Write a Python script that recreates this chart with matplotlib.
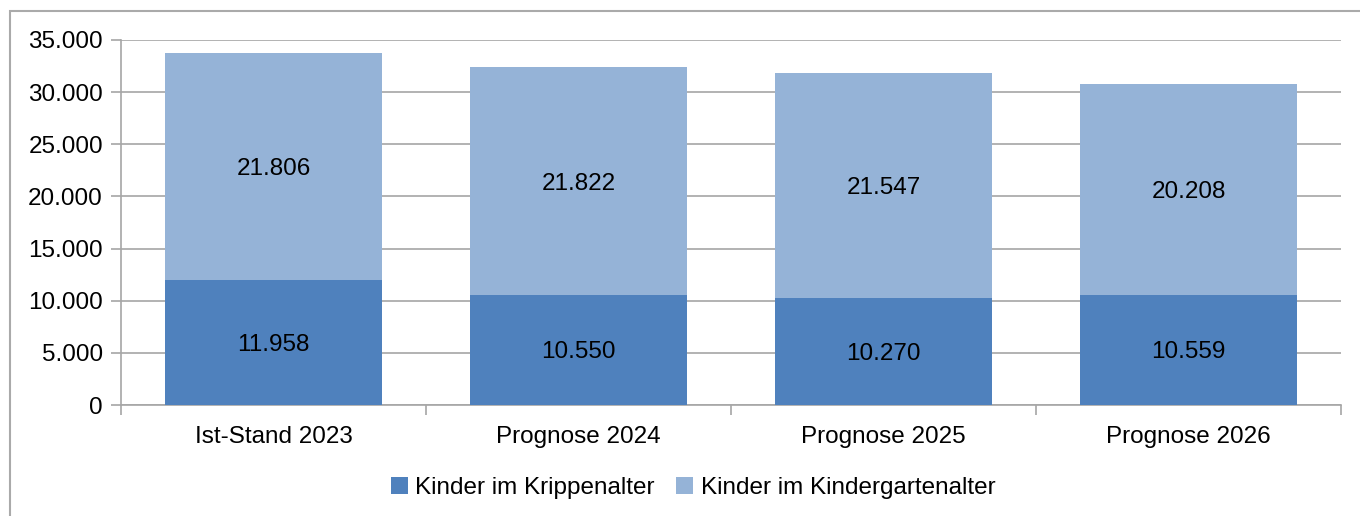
import matplotlib.pyplot as plt
from matplotlib.patches import Rectangle
from matplotlib.ticker import FuncFormatter, FixedLocator

plt.rcParams['font.family'] = ['Liberation Sans', 'DejaVu Sans']

# Daten
kategorien = ['Ist-Stand 2023', 'Prognose 2024', 'Prognose 2025', 'Prognose 2026']
krippe = [11958, 10550, 10270, 10559]
kindergarten = [21806, 21822, 21547, 20208]
serien_namen = ['Kinder im Krippenalter', 'Kinder im Kindergartenalter']

farbe_krippe = '#4F81BD'
farbe_kiga = '#95B3D7'
grau = '#A6A6A6'
fs = 17.5

W, H = 1360, 516
fig = plt.figure(figsize=(W / 100, H / 100), dpi=100)

# Rahmen um das Diagramm
fig.patches.append(Rectangle((10 / W, -0.1), 1.2, 1 - 11 / H + 0.1, transform=fig.transFigure,
                             fill=False, edgecolor='#AAAAAA', linewidth=1.5))

ax = fig.add_axes([121 / W, 1 - 405 / H, (1341 - 121) / W, (405 - 40) / H])

x = list(range(len(kategorien)))
b1 = ax.bar(x, krippe, width=0.71, color=farbe_krippe, label=serien_namen[0], zorder=3)
b2 = ax.bar(x, kindergarten, width=0.71, bottom=krippe, color=farbe_kiga,
            label=serien_namen[1], zorder=3)

fmt = lambda v: f'{v:,.0f}'.replace(',', '.')
for i in x:
    ax.text(i, krippe[i] / 2, fmt(krippe[i]), ha='center', va='center_baseline',
            fontsize=fs, zorder=4)
    ax.text(i, krippe[i] + kindergarten[i] / 2, fmt(kindergarten[i]), ha='center',
            va='center_baseline', fontsize=fs, zorder=4)

ax.set_xlim(-0.5, len(kategorien) - 0.5)
ax.set_ylim(0, 35000)
ax.set_yticks(range(0, 35001, 5000))
ax.yaxis.set_major_formatter(FuncFormatter(lambda v, p: fmt(v)))
ax.grid(axis='y', color=grau, linewidth=1.2, zorder=0)

ax.set_xticks(x)
ax.set_xticklabels(kategorien)
ax.xaxis.set_minor_locator(FixedLocator([i - 0.5 for i in range(len(kategorien) + 1)]))
ax.tick_params(axis='x', which='major', length=0, pad=15, labelsize=fs)
ax.tick_params(axis='x', which='minor', length=7, color=grau, width=1.2)
ax.tick_params(axis='y', length=7, color=grau, width=1.2, labelsize=fs, pad=6)

for s in ['top', 'right']:
    ax.spines[s].set_visible(False)
for s in ['left', 'bottom']:
    ax.spines[s].set_color(grau)
    ax.spines[s].set_linewidth(1.2)

fig.legend(handles=[b1, b2], loc='center', bbox_to_anchor=(693 / W, 1 - 488 / H), ncol=2,
           frameon=False, fontsize=fs, handlelength=0.7, handleheight=0.7,
           handletextpad=0.3, columnspacing=0.9)

fig.savefig('out.png', dpi=100)
